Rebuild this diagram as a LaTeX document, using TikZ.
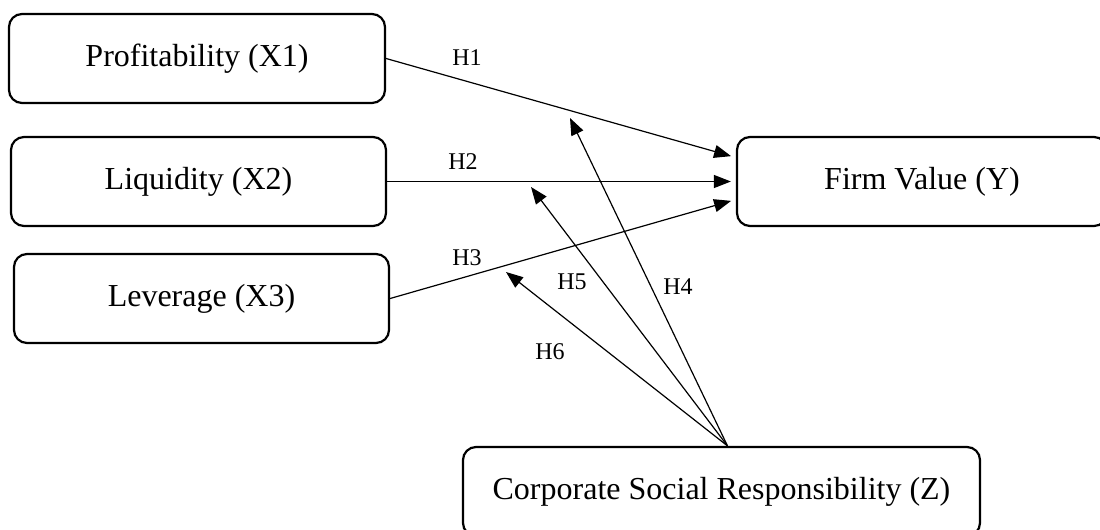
\documentclass[tikz,border=0pt]{standalone}
\usepackage{fontspec}
\setmainfont{Liberation Serif}
\usetikzlibrary{arrows.meta, positioning, calc}

\begin{document}
\begin{tikzpicture}[
    x=0.5pt, y=-0.5pt,
    varbox/.style={rectangle, draw=black, line width=1.1pt, rounded corners=6.5pt, minimum height=44.5pt, font=\fontsize{16}{19}\selectfont, align=center},
    arrow/.style={-{Triangle[length=8.5pt, width=6.5pt]}, line width=0.6pt, black},
    hyp/.style={font=\fontsize{12}{14}\selectfont, inner sep=0pt},
]
    \useasboundingbox (0,0) rectangle (1100,530);

    % independent variables
    \node[varbox, minimum width=188pt] (x1) at (197,58.5) {Profitability (X1)};
    \node[varbox, minimum width=187.5pt] (x2) at (198.5,181.5) {Liquidity (X2)};
    \node[varbox, minimum width=187.5pt] (x3) at (201.5,298.5) {Leverage (X3)};

    % dependent and moderating variables
    \node[varbox, minimum width=185pt] (y) at (922,181.5) {Firm Value (Y)};
    \node[varbox, minimum width=258.5pt] (z) at (721.5,491.5) {Corporate Social Responsibility (Z)};

    \coordinate (zsrc) at ([xshift=3pt]z.north);
    \coordinate (m1) at (570,118);
    \coordinate (m2) at (531,187);
    \coordinate (m3) at (506,272);

    \draw[arrow, shorten >=2.5pt] (x1.east) -- ([yshift=12pt]y.west);
    \draw[arrow, shorten >=2.5pt] (x2.east) -- (y.west);
    \draw[arrow, shorten >=2.5pt] (x3.east) -- ([yshift=-9pt]y.west);

    \draw[arrow] (zsrc) -- (m1);
    \draw[arrow] (zsrc) -- (m2);
    \draw[arrow] (zsrc) -- (m3);

    \node[hyp] (h1) at (467,58) {H1};
    \node[hyp] (h2) at (463,162) {H2};
    \node[hyp] (h3) at (467,258) {H3};
    \node[hyp] (h4) at (678,287) {H4};
    \node[hyp] (h5) at (572,282) {H5};
    \node[hyp] (h6) at (550,352) {H6};
\end{tikzpicture}
\end{document}
